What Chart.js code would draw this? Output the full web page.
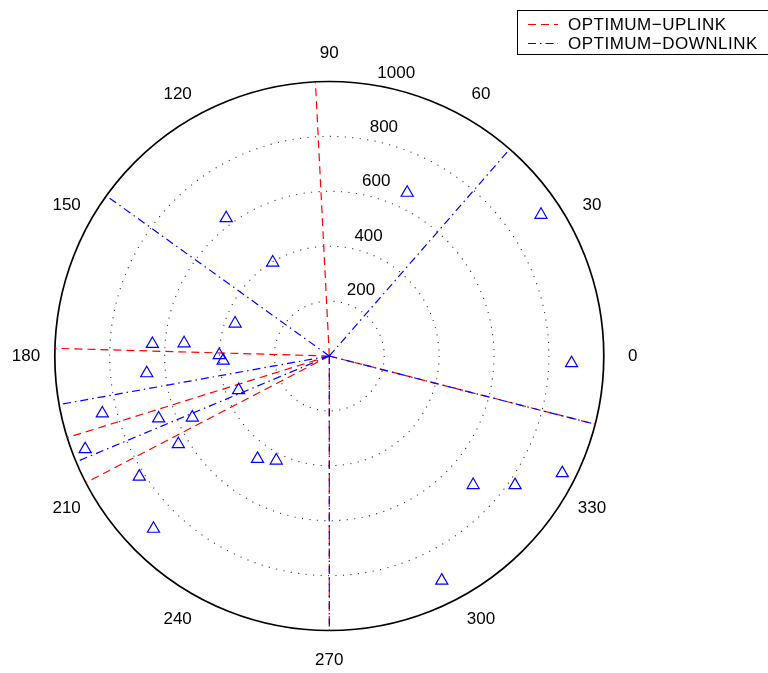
<!DOCTYPE html>
<html>
<head>
<meta charset="utf-8">
<script src="https://cdn.jsdelivr.net/npm/chart.js@4/dist/chart.umd.min.js"></script>
<style>
  html, body { margin: 0; padding: 0; background: #fff; }
  canvas { display: block; }
</style>
</head>
<body>
<canvas id="polar" width="768" height="673"></canvas>
<script>
// Polar grid settings (values in the radial unit)
const rMax = 1000;
const ringValues = [200, 400, 600, 800];
const radialTickValues = [200, 400, 600, 800, 1000];
const radialTickAngle = 82;
const angleTicks = [0, 30, 60, 90, 120, 150, 180, 210, 240, 270, 300, 330];

// Optimum beam directions (degrees) and their reach
const uplinkAngles   = [92.9, 178.4, 197.3, 207.5, 270, 345.6];
const uplinkRadii    = [1000, 1000, 1000, 1000, 1000, 1000];
const downlinkAngles = [48.9, 144.3, 190.2, 202.7, 270, 345.6];
const downlinkRadii  = [1000, 1000, 1000, 1000, 1000, 1000];

// Terminal positions (angle in degrees, radius)
const siteAngles = [64.5, 33.7, 126.8, 121.2, 161.0, 176.1, 175.0, 179.5, 182.5, 185.4,
                    200.6, 194.2, 200.1, 204.2, 210.3, 200.9, 212.4, 235.1, 243.1, 224.5,
                    358.3, 318.1, 325.2, 333.3, 296.6];
const siteRadii  = [659, 927, 627, 398, 363, 646, 531, 401, 387, 668,
                    353, 853, 662, 547, 637, 952, 820, 457, 427, 898,
                    883, 704, 824, 950, 915];

const seriesLabels = ['OPTIMUM\u2212UPLINK', 'OPTIMUM\u2212DOWNLINK'];
const FONT = '"Liberation Sans", Arial, Helvetica, sans-serif';

const deg = a => a * Math.PI / 180;
const toXY = (a, r) => ({ x: r * Math.cos(deg(a)), y: r * Math.sin(deg(a)) });

// Each beam is a segment from the origin; NaN entries break the path between beams
function spokes(angles, radii) {
  const pts = [];
  angles.forEach((a, i) => {
    pts.push({ x: 0, y: 0 }, toXY(a, radii[i]), { x: NaN, y: NaN });
  });
  return pts;
}

const polarFrame = {
  id: 'polarFrame',
  beforeDatasetsDraw(chart) {
    const { ctx, scales: { x, y } } = chart;
    const cx = x.getPixelForValue(0), cy = y.getPixelForValue(0);
    const k = (x.getPixelForValue(rMax) - cx) / rMax;
    ctx.save();
    // dotted rings
    ctx.strokeStyle = 'rgba(0,0,0,0.8)';
    ctx.lineWidth = 1.1;
    ctx.setLineDash([1.1, 6.4]);
    ringValues.forEach(v => {
      ctx.beginPath();
      ctx.arc(cx, cy, v * k, 0, Math.PI * 2);
      ctx.stroke();
    });
    // outer boundary
    ctx.setLineDash([]);
    ctx.strokeStyle = '#000';
    ctx.lineWidth = 1.7;
    ctx.beginPath();
    ctx.arc(cx, cy, rMax * k, 0, Math.PI * 2);
    ctx.stroke();
    // angle labels
    ctx.fillStyle = '#000';
    ctx.font = '17px ' + FONT;
    ctx.textAlign = 'center';
    ctx.textBaseline = 'middle';
    angleTicks.forEach(a => {
      const p = toXY(a, 1.105 * rMax);
      ctx.fillText(String(a), cx + p.x * k, cy - p.y * k + 0.5);
    });
    // radial labels
    ctx.textAlign = 'left';
    ctx.textBaseline = 'bottom';
    radialTickValues.forEach(v => {
      const p = toXY(radialTickAngle, v + 10);
      ctx.fillText('  ' + v, cx + p.x * k, cy - p.y * k);
    });
    ctx.restore();
  },
  afterDraw(chart) {
    const { ctx } = chart;
    const ds = chart.data.datasets;
    ctx.save();
    ctx.fillStyle = '#fff';
    ctx.strokeStyle = '#000';
    ctx.lineWidth = 1;
    ctx.fillRect(517.5, 10.5, 260, 44);
    ctx.strokeRect(517.5, 10.5, 260, 44);
    ctx.font = '17px ' + FONT;
    ctx.textAlign = 'left';
    ctx.textBaseline = 'middle';
    if ('letterSpacing' in ctx) ctx.letterSpacing = '0.5px';
    [0, 1].forEach(i => {
      const yy = 24 + i * 19;
      ctx.strokeStyle = ds[i].borderColor;
      ctx.setLineDash(ds[i].borderDash);
      ctx.lineWidth = 1.2;
      ctx.beginPath();
      ctx.moveTo(528, yy + 0.5);
      ctx.lineTo(558, yy + 0.5);
      ctx.stroke();
      ctx.setLineDash([]);
      ctx.fillStyle = '#000';
      ctx.fillText(ds[i].label, 568, yy + 1);
    });
    ctx.restore();
  }
};

new Chart(document.getElementById('polar'), {
  type: 'scatter',
  data: {
    datasets: [
      {
        label: seriesLabels[0],
        data: spokes(uplinkAngles, uplinkRadii),
        showLine: true,
        spanGaps: false,
        borderColor: '#ff0000',
        borderWidth: 1.2,
        borderDash: [8, 5],
        pointRadius: 0,
        order: 3
      },
      {
        label: seriesLabels[1],
        data: spokes(downlinkAngles, downlinkRadii),
        showLine: true,
        spanGaps: false,
        borderColor: '#0000ff',
        borderWidth: 1.2,
        borderDash: [8, 4, 1.5, 4],
        pointRadius: 0,
        order: 2
      },
      {
        label: 'sites',
        data: siteAngles.map((a, i) => toXY(a, siteRadii[i])),
        showLine: false,
        pointStyle: 'triangle',
        pointRadius: 7,
        borderColor: '#0000ff',
        backgroundColor: 'rgba(0,0,0,0)',
        borderWidth: 1.2,
        order: 1
      }
    ]
  },
  options: {
    responsive: false,
    animation: false,
    devicePixelRatio: 1,
    layout: { padding: { left: 54.8, right: 164.2, top: 81.5, bottom: 42.5 } },
    scales: {
      x: { type: 'linear', min: -rMax, max: rMax, display: false },
      y: { type: 'linear', min: -rMax, max: rMax, display: false }
    },
    plugins: {
      legend: { display: false },
      tooltip: { enabled: false }
    },
    elements: { line: { tension: 0 } }
  },
  plugins: [polarFrame]
});
</script>
</body>
</html>
